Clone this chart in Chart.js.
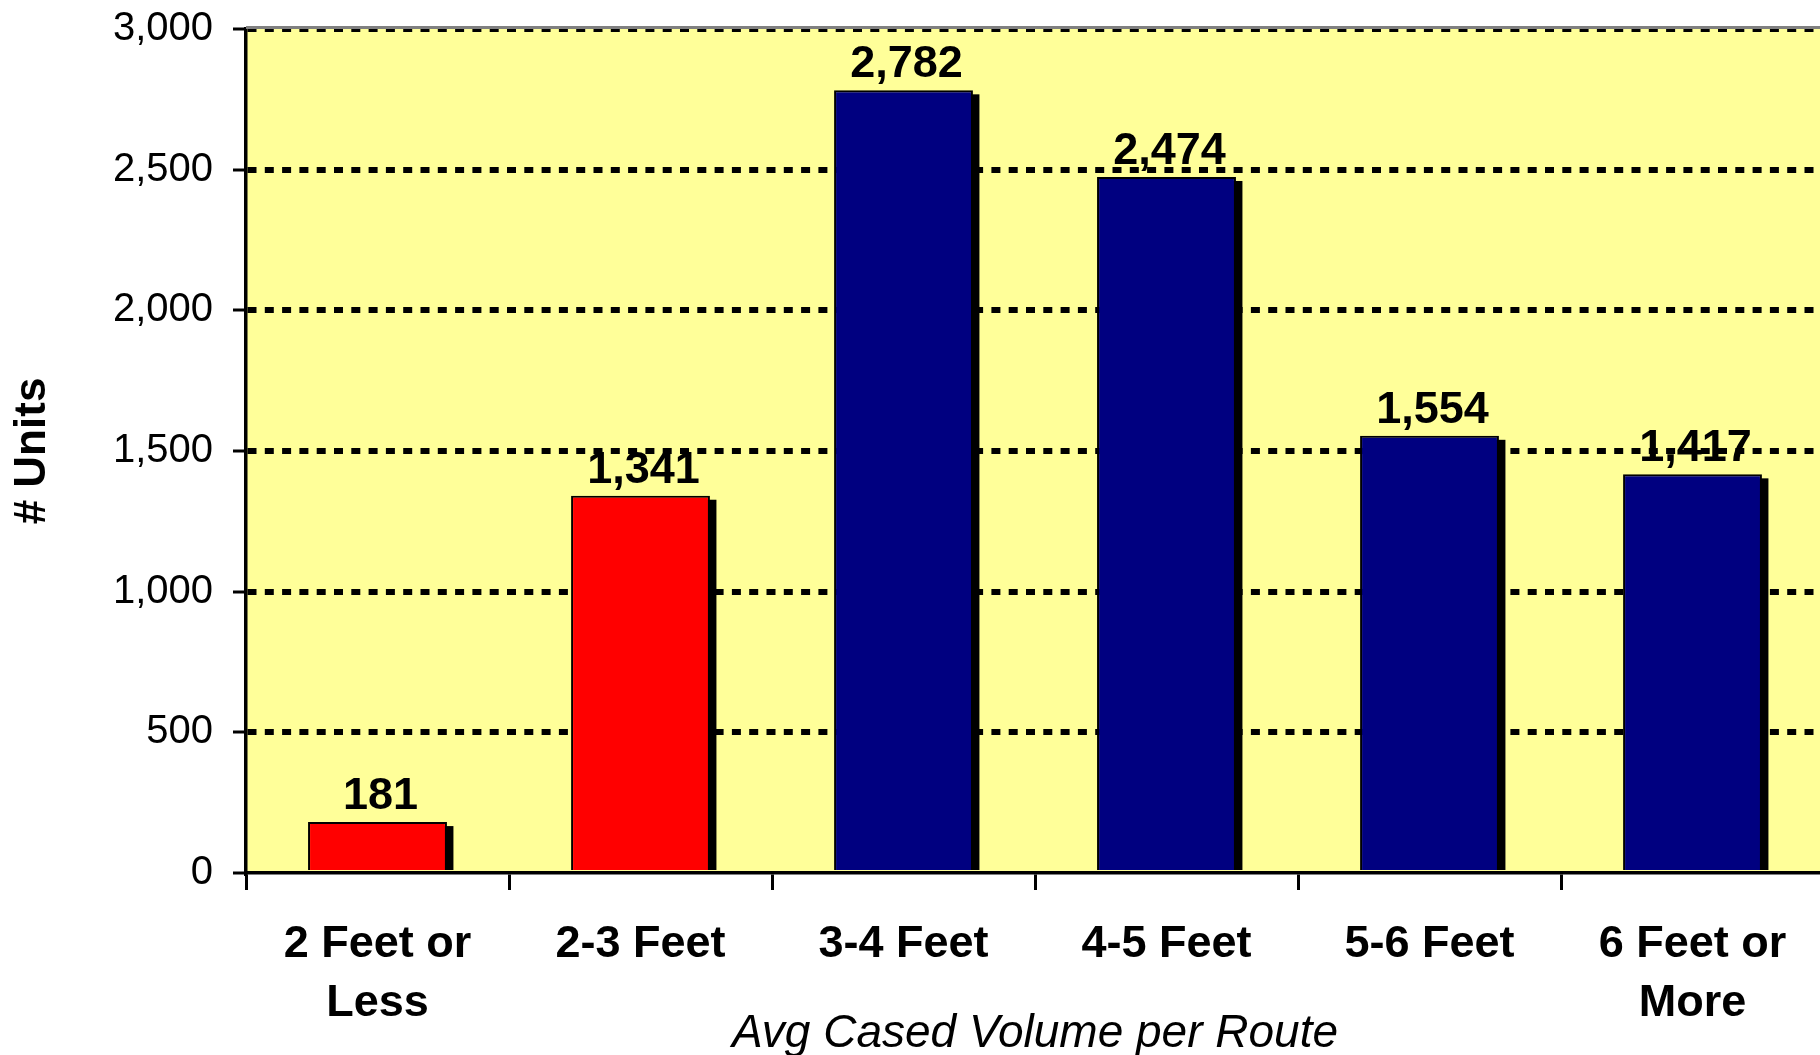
<!DOCTYPE html>
<html>
<head>
<meta charset="utf-8">
<script src="https://cdn.jsdelivr.net/npm/chart.js@4.4.1/dist/chart.umd.min.js"></script>
<style>
  html, body { margin: 0; padding: 0; background: #ffffff; overflow: hidden; }
  #wrap { position: relative; width: 1824px; height: 1055px; }
</style>
</head>
<body>
<div id="wrap"><canvas id="c"></canvas></div>
<script>
// Units by average cased volume per route
const categories = [['2 Feet or', 'Less'], '2-3 Feet', '3-4 Feet', '4-5 Feet', '5-6 Feet', ['6 Feet or', 'More']];
const units = [181, 1341, 2782, 2474, 1554, 1417];
const barColors = ['#FF0000', '#FF0000', '#000080', '#000080', '#000080', '#000080'];
const yTickValues = [0, 500, 1000, 1500, 2000, 2500, 3000];
const yTitle = '# Units';
const xTitle = 'Avg Cased Volume per Route';

const FONT = '"Liberation Sans", Arial, Helvetica, sans-serif';
const fmt = v => v.toLocaleString('en-US');

// Pale yellow plot area plus grey top edge
const plotBackground = {
  id: 'plotBackground',
  beforeDraw(chart) {
    const { ctx, chartArea: a } = chart;
    ctx.save();
    ctx.fillStyle = '#FFFF99';
    ctx.fillRect(a.left, a.top, a.right - a.left, a.bottom - a.top);
    ctx.restore();
  },
  beforeDatasetsDraw(chart) {
    const { ctx, chartArea: a } = chart;
    ctx.save();
    ctx.strokeStyle = '#808080';
    ctx.lineWidth = 3;
    ctx.beginPath();
    ctx.moveTo(a.left, a.top - 1.5);
    ctx.lineTo(a.right, a.top - 1.5);
    ctx.stroke();
    ctx.restore();
  }
};

// Solid black drop shadow behind each bar
const barShadow = {
  id: 'barShadow',
  beforeDatasetsDraw(chart) {
    const { ctx } = chart;
    const meta = chart.getDatasetMeta(0);
    ctx.save();
    ctx.fillStyle = '#000000';
    meta.data.forEach(el => {
      const { x, y, base, width } = el.getProps(['x', 'y', 'base', 'width'], true);
      ctx.fillRect(x - width / 2 + 6.5, y + 4, width, base - y - 4);
    });
    ctx.restore();
  }
};

// Value labels above bars
const valueLabels = {
  id: 'valueLabels',
  afterDatasetsDraw(chart) {
    const { ctx } = chart;
    const meta = chart.getDatasetMeta(0);
    const data = chart.data.datasets[0].data;
    ctx.save();
    ctx.fillStyle = '#000000';
    ctx.font = 'bold 45px ' + FONT;
    ctx.textAlign = 'center';
    ctx.textBaseline = 'alphabetic';
    meta.data.forEach((el, i) => {
      const { x, y } = el.getProps(['x', 'y'], true);
      ctx.fillText(fmt(data[i]), x + 3, y - 13);
    });
    ctx.restore();
  }
};

new Chart(document.getElementById('c'), {
  type: 'bar',
  data: {
    labels: categories,
    datasets: [{
      data: units,
      backgroundColor: barColors,
      borderColor: '#000000',
      borderWidth: 2,
      borderSkipped: 'bottom',
      barPercentage: 0.528,
      categoryPercentage: 1.0
    }]
  },
  options: {
    responsive: true,
    maintainAspectRatio: false,
    devicePixelRatio: 1,
    animation: false,
    layout: { padding: { top: 29, left: 0, right: 0, bottom: 0 } },
    plugins: {
      legend: { display: false },
      tooltip: { enabled: false },
      title: { display: false }
    },
    scales: {
      x: {
        offset: true,
        afterFit(scale) {
          scale.height = 182;
          scale.paddingLeft = 0;
          scale.paddingRight = 0;
        },
        grid: {
          offset: true,
          drawOnChartArea: false,
          drawTicks: true,
          tickLength: 17,
          tickColor: '#000000',
          tickWidth: 3
        },
        border: { display: true, color: '#000000', width: 3.5 },
        ticks: {
          color: '#000000',
          font: { family: FONT, size: 45, weight: 'bold', lineHeight: 1.31 },
          padding: 25,
          maxRotation: 0,
          minRotation: 0,
          autoSkip: false
        },
        title: {
          display: true,
          text: xTitle,
          color: '#000000',
          font: { family: FONT, size: 46, style: 'italic', weight: 'normal', lineHeight: 0.9 },
          padding: { top: 0, bottom: 0 }
        }
      },
      y: {
        min: 0,
        max: 3000,
        afterFit(scale) {
          scale.width = 246;
          scale.paddingTop = 0;
          scale.paddingBottom = 0;
        },
        afterBuildTicks(scale) { scale.ticks = yTickValues.map(v => ({ value: v })); },
        grid: {
          drawOnChartArea: true,
          drawTicks: true,
          color: ctx => (ctx.tick && ctx.tick.value === 0) ? 'rgba(0,0,0,0)' : '#000000',
          lineWidth: 6,
          tickLength: 13,
          tickColor: '#000000',
          tickWidth: 3,
          tickBorderDash: []
        },
        border: { display: true, color: '#000000', width: 3.5, dash: [9, 8.3] },
        ticks: {
          color: '#000000',
          font: { family: FONT, size: 40, weight: 'normal' },
          padding: 20,
          callback: v => fmt(v)
        },
        title: {
          display: true,
          text: yTitle,
          color: '#000000',
          font: { family: FONT, size: 44, weight: 'bold', lineHeight: 1.2 },
          padding: { top: 6, bottom: 0 }
        }
      }
    }
  },
  plugins: [plotBackground, barShadow, valueLabels]
});
</script>
</body>
</html>
